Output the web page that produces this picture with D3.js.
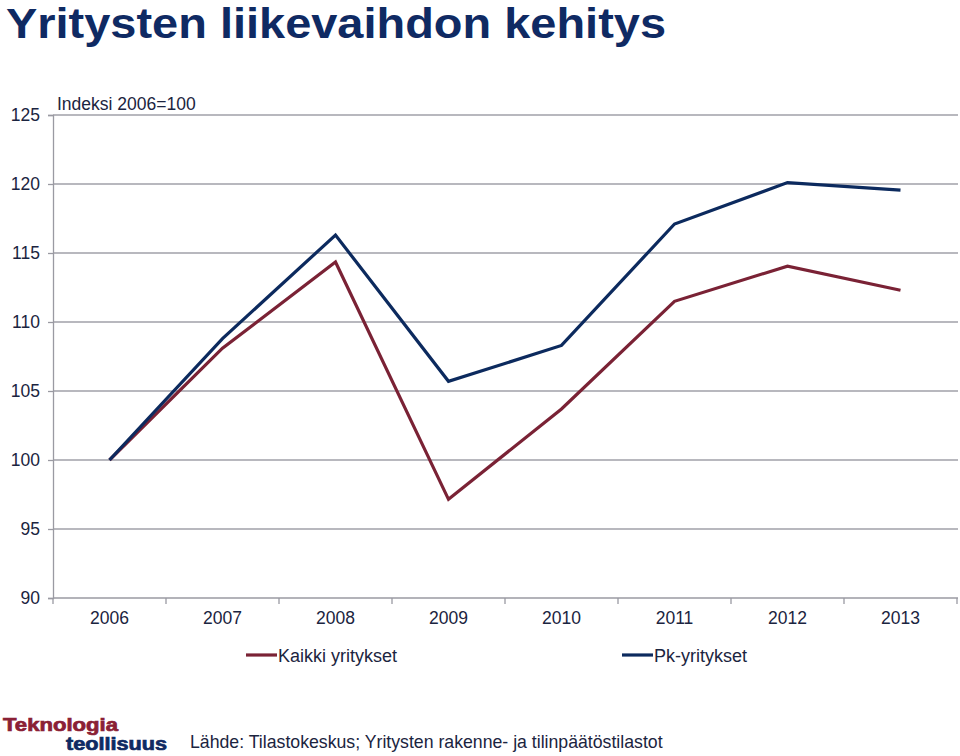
<!DOCTYPE html>
<html><head><meta charset="utf-8">
<script src="https://cdn.jsdelivr.net/npm/d3@7"></script>
<style>body{margin:0;background:#fff}svg{display:block}</style>
</head><body><svg id="c" width="960" height="756"></svg>
<script>
const years = ["2006","2007","2008","2009","2010","2011","2012","2013"];
const kaikki = [100, 108.1, 114.35, 97.15, 103.7, 111.5, 114.05, 112.3];
const pk = [100, 108.8, 116.3, 105.7, 108.3, 117.1, 120.1, 119.55];
const yTicks = [90, 95, 100, 105, 110, 115, 120, 125];
const seriesNames = ["Kaikki yritykset", "Pk-yritykset"];
const colors = ["#7a2235", "#0c2a5e"];

const svg = d3.select("#c");
const font = "'Liberation Sans', Arial, sans-serif";
const textCol = "#1b2440";

svg.append("text").attr("x", 6).attr("y", 38)
  .attr("font-family", "'Liberation Sans Narrow', 'Liberation Sans', Arial, sans-serif")
  .attr("font-weight", "bold").attr("font-size", 42).attr("fill", "#0f2a63")
  .attr("textLength", 660).attr("lengthAdjust", "spacingAndGlyphs")
  .text("Yritysten liikevaihdon kehitys");

const x = d3.scaleBand().domain(years).range([53, 957]);
const y = d3.scaleLinear().domain([90, 125]).range([598, 115]);

// gridlines
svg.append("g").selectAll("line").data(yTicks.filter(d => d !== 90)).join("line")
  .attr("x1", 53).attr("x2", 958).attr("y1", d => y(d)).attr("y2", d => y(d))
  .attr("stroke", "#a0a0a8").attr("stroke-width", 1.3);

const yAxis = svg.append("g").attr("transform", "translate(53,0)")
  .call(d3.axisLeft(y).tickValues(yTicks).tickSize(5).tickPadding(8).tickFormat(d3.format("d")));
yAxis.select(".domain").attr("stroke", "#9a9aa2").attr("stroke-width", 1.3);
yAxis.selectAll(".tick line").attr("stroke", "#9a9aa2").attr("stroke-width", 1.3);
yAxis.selectAll("text").attr("font-family", font).attr("font-size", 17.5).attr("fill", textCol);

const xAxis = svg.append("g").attr("transform", "translate(0,598)")
  .call(d3.axisBottom(x).tickSize(0).tickPadding(14));
xAxis.select(".domain").attr("stroke", "#9a9aa2").attr("stroke-width", 1.3).attr("d", "M53,0H958");
xAxis.selectAll("text").attr("font-family", font).attr("font-size", 17.5).attr("fill", textCol);
// band boundary ticks
svg.append("g").selectAll("line").data(years.concat(["end"])).join("line")
  .attr("x1", (d,i) => 53 + i * x.bandwidth()).attr("x2", (d,i) => 53 + i * x.bandwidth())
  .attr("y1", 598).attr("y2", 604).attr("stroke", "#9a9aa2").attr("stroke-width", 1.3);

svg.append("text").attr("x", 57).attr("y", 110).attr("font-family", font)
  .attr("font-size", 17.5).attr("fill", textCol).text("Indeksi 2006=100");

const line = d3.line().x((d,i) => x(years[i]) + x.bandwidth()/2).y(d => y(d));
[kaikki, pk].forEach((s, k) => {
  svg.append("path").datum(s).attr("d", line).attr("fill", "none")
    .attr("stroke", colors[k]).attr("stroke-width", 3.2).attr("stroke-linejoin", "miter");
});

// legend
const legX = [246, 622];
seriesNames.forEach((n, k) => {
  svg.append("line").attr("x1", legX[k]).attr("x2", legX[k] + 31).attr("y1", 655).attr("y2", 655)
    .attr("stroke", colors[k]).attr("stroke-width", 3.2);
  svg.append("text").attr("x", legX[k] + 32).attr("y", 662).attr("font-family", font)
    .attr("font-size", 18).attr("fill", textCol).text(n);
});

// logo and source
svg.append("text").attr("x", 3).attr("y", 731).attr("font-family", font).attr("font-weight", "900")
  .attr("font-size", 18).attr("fill", "#8a2035").attr("stroke", "#8a2035").attr("stroke-width", 0.7)
  .attr("textLength", 115).attr("lengthAdjust", "spacingAndGlyphs")
  .text("Teknologia");
svg.append("text").attr("x", 66).attr("y", 750).attr("font-family", font).attr("font-weight", "900")
  .attr("font-size", 18).attr("fill", "#0f2a63").attr("stroke", "#0f2a63").attr("stroke-width", 0.7)
  .attr("textLength", 101).attr("lengthAdjust", "spacingAndGlyphs")
  .text("teollisuus");
svg.append("text").attr("x", 190).attr("y", 748).attr("font-family", font)
  .attr("font-size", 17.7).attr("fill", textCol).text("Lähde: Tilastokeskus; Yritysten rakenne- ja tilinpäätöstilastot");
</script></body></html>
